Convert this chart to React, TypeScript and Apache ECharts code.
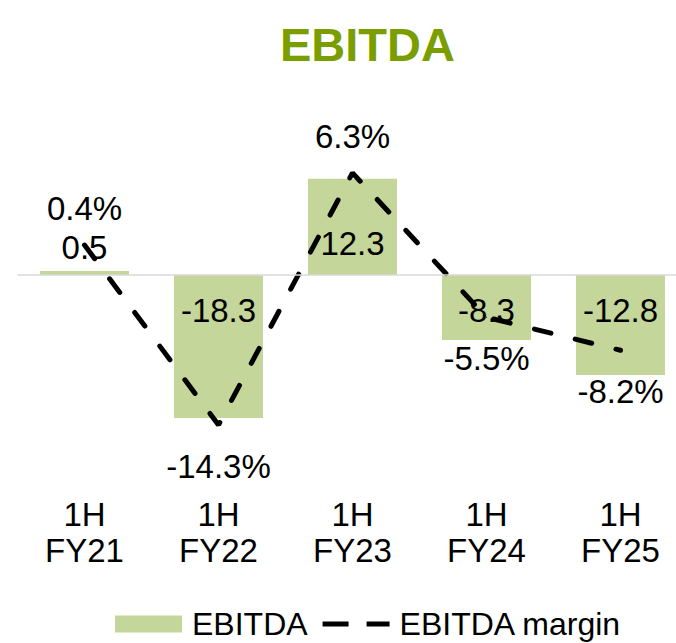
import React, { useEffect, useRef } from "react";
import * as echarts from "echarts";

const categories = ["1H\nFY21", "1H\nFY22", "1H\nFY23", "1H\nFY24", "1H\nFY25"];
const ebitda = [0.5, -18.3, 12.3, -8.3, -12.8];
const margin = [0.4, -14.3, 6.3, -5.5, -8.2];
const seriesNames = ["EBITDA", "EBITDA margin"];
const titleText = "EBITDA";

const FONT = "'Liberation Sans', Arial, Helvetica, sans-serif";
const BAR_COLOR = "#c4d69a";
const TITLE_COLOR = "#7a9e00";

export default function App() {
  const ref = useRef<HTMLDivElement>(null);

  useEffect(() => {
    if (!ref.current) return;
    const chart = echarts.init(ref.current, undefined, { renderer: "svg" });

    const barData = ebitda.map((v, i) => ({
      value: v,
      label: {
        position: v < 0 ? "insideTop" : i === 0 ? "top" : "insideBottom",
        distance: v < 0 ? 18 : i === 0 ? 7 : 15,
      },
    }));

    const lineData = margin.map((v) => ({
      value: v,
      label: {
        position: v < 0 ? "bottom" : "top",
        distance: v < 0 ? 24 : 19,
      },
    }));

    const labelText = {
      color: "#000",
      fontFamily: FONT,
      fontSize: 33,
      lineHeight: 34,
    };

    chart.setOption({
      animation: false,
      backgroundColor: "#fff",
      textStyle: { fontFamily: FONT },
      title: {
        text: titleText,
        left: 280,
        top: 21,
        padding: 0,
        textStyle: {
          color: TITLE_COLOR,
          fontFamily: FONT,
          fontSize: 47,
          fontWeight: "bold",
        },
      },
      legend: {
        left: 115,
        top: 606,
        padding: 0,
        itemWidth: 67,
        itemHeight: 17,
        itemGap: 15,
        textStyle: {
          color: "#000",
          fontFamily: FONT,
          fontSize: 32,
          lineHeight: 36,
          padding: [0, 0, 0, 5],
        },
        data: [
          { name: seriesNames[0], icon: "rect" },
          {
            name: seriesNames[1],
            icon: "path://M0,0h26v5h-26zM44,0h23v5h-23z",
            itemStyle: { color: "#000" },
          },
        ],
      },
      grid: {
        left: 17.5,
        width: 670,
        top: 100,
        height: 350,
        outerBoundsMode: "none",
        containLabel: false,
      },
      xAxis: {
        type: "category",
        data: categories,
        axisLine: { show: false },
        axisTick: { show: false },
        axisLabel: {
          color: "#000",
          fontFamily: FONT,
          fontSize: 33,
          lineHeight: 36,
          margin: 46,
          interval: 0,
        },
      },
      yAxis: [
        {
          type: "value",
          min: -22.38,
          max: 22.38,
          show: false,
          splitLine: { show: false },
        },
        {
          type: "value",
          min: -16.35,
          max: 12.26,
          show: false,
          splitLine: { show: false },
        },
      ],
      series: [
        {
          name: seriesNames[0],
          type: "bar",
          yAxisIndex: 0,
          barWidth: 89,
          itemStyle: { color: BAR_COLOR },
          label: {
            show: true,
            formatter: (p: any) => p.value.toFixed(1),
            ...labelText,
          },
          markLine: {
            silent: true,
            symbol: "none",
            label: { show: false },
            lineStyle: { color: "#d9d9d9", type: "solid", width: 1.5 },
            data: [{ yAxis: 0 }],
          },
          data: barData,
          z: 1,
        },
        {
          name: seriesNames[1],
          type: "line",
          yAxisIndex: 1,
          symbol: "circle",
          symbolSize: 1,
          itemStyle: { color: "#000" },
          lineStyle: { color: "#000", width: 5, type: [17, 25], cap: "round" },
          label: {
            show: true,
            formatter: (p: any) => p.value.toFixed(1) + "%",
            ...labelText,
          },
          data: lineData,
          z: 3,
        },
      ],
    });

    return () => chart.dispose();
  }, []);

  return (
    <div
      ref={ref}
      style={{ position: "fixed", left: 0, top: 0, width: 676, height: 643 }}
    />
  );
}
